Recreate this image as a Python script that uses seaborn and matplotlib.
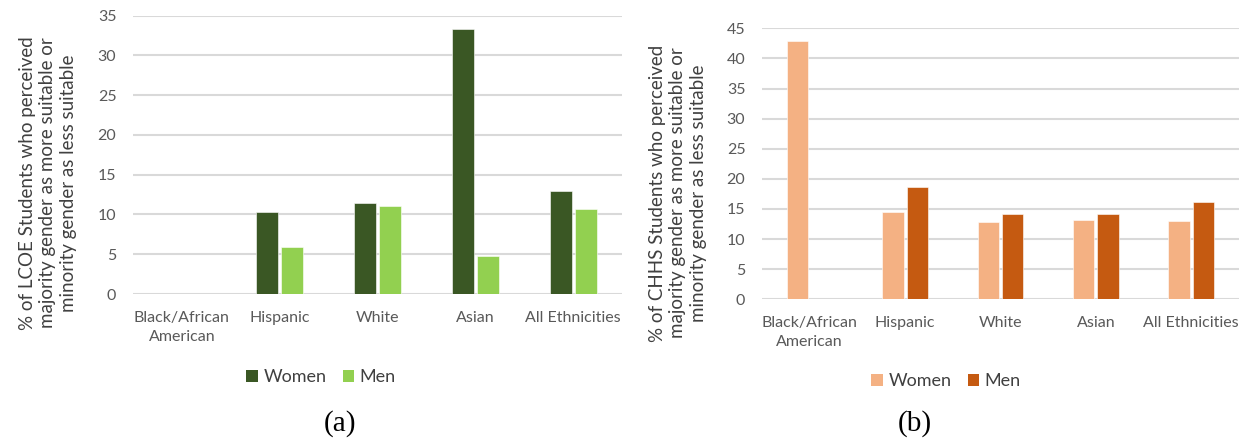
import numpy as np
import pandas as pd
import matplotlib
matplotlib.use("Agg")
import matplotlib.pyplot as plt
from matplotlib.patches import Patch
import seaborn as sns

# Survey results: share of students (%) who perceived the majority gender as
# more suitable or the minority gender as less suitable, by ethnicity.
categories = ["Black/African\nAmerican", "Hispanic", "White", "Asian", "All Ethnicities"]
genders = ["Women", "Men"]

lcoe_women = [np.nan, 10.3, 11.45, 33.3, 12.9]
lcoe_men = [np.nan, 5.9, 11.1, 4.8, 10.65]

chhs_women = [42.9, 14.5, 12.9, 13.2, 13.0]
chhs_men = [np.nan, 18.65, 14.2, 14.2, 16.2]

lcoe_ticks = [0, 5, 10, 15, 20, 25, 30, 35]
chhs_ticks = [0, 5, 10, 15, 20, 25, 30, 35, 40, 45]

lcoe_colors = ["#3A5724", "#92D050"]
chhs_colors = ["#F4B183", "#C55A11"]

lcoe_ylabel = ("% of LCOE Students who perceived\n"
               "majority gender as more suitable or\n"
               "minority gender as less suitable")
chhs_ylabel = ("% of CHHS Students who perceived\n"
               "majority gender as more suitable or\n"
               "minority gender as less suitable")


def long_table(women, men):
    return pd.DataFrame({
        "Ethnicity": categories * 2,
        "Gender": ["Women"] * len(categories) + ["Men"] * len(categories),
        "Percent": list(women) + list(men),
    }).dropna()


sns.set_theme(style="white")
plt.rcParams["font.family"] = ["Lato", "DejaVu Sans"]

W, H = 1247, 442
fig = plt.figure(figsize=(W / 100, H / 100), dpi=100)


def px_axes(left, top, right, bottom):
    return fig.add_axes([left / W, 1 - bottom / H, (right - left) / W, (bottom - top) / H])


ax_a = px_axes(133, 15.7, 622, 294)
ax_b = px_axes(762, 28.3, 1239, 299.3)

text_color = "#595959"
grid_color = "#D9D9D9"

panels = [
    (ax_a, lcoe_women, lcoe_men, lcoe_colors, lcoe_ticks, lcoe_ylabel,
     (48, 183), (321, 377), (340, 424), "(a)"),
    (ax_b, chhs_women, chhs_men, chhs_colors, chhs_ticks, chhs_ylabel,
     (678, 193), (946, 381), (915, 424), "(b)"),
]

for ax, women, men, colors, ticks, ylabel, ylab_pos, leg_pos, cap_pos, cap in panels:
    df = long_table(women, men)
    sns.barplot(data=df, x="Ethnicity", y="Percent", hue="Gender",
                order=categories, hue_order=genders, palette=colors,
                width=0.51, gap=0.12, saturation=1, ax=ax,
                edgecolor="white", linewidth=0.4, legend=False, zorder=3)
    ax.set_ylim(0, ticks[-1])
    ax.set_xlim(-0.5, len(categories) - 0.5)
    ax.set_yticks(ticks)
    ax.yaxis.grid(True, color=grid_color, linewidth=1.5, zorder=0)
    ax.set_axisbelow(True)
    for side in ["top", "right", "left", "bottom"]:
        ax.spines[side].set_visible(False)
    ax.tick_params(axis="y", length=0, pad=12, labelsize=11.5, labelcolor=text_color)
    ax.tick_params(axis="x", length=0, pad=12, labelsize=11.5, labelcolor=text_color)
    for lab in ax.get_xticklabels():
        lab.set_linespacing(1.45)
    ax.set_xlabel("")
    ax.set_ylabel("")

    fig.text(ylab_pos[0] / W, 1 - ylab_pos[1] / H, ylabel, rotation=90,
             ha="center", va="center", multialignment="center",
             fontsize=13.5, color="#404040", linespacing=1.25)

    handles = [Patch(facecolor=c, edgecolor="none") for c in colors]
    fig.legend(handles, genders, loc="center",
               bbox_to_anchor=(leg_pos[0] / W, 1 - leg_pos[1] / H),
               ncol=2, frameon=False, fontsize=13, labelcolor="#404040",
               handlelength=0.65, handleheight=0.65, handletextpad=0.3,
               columnspacing=0.9, borderpad=0)

    fig.text(cap_pos[0] / W, 1 - cap_pos[1] / H, cap, ha="center", va="center",
             fontsize=21, family=["Liberation Serif", "DejaVu Serif"], color="black")

fig.savefig("out.png", dpi=100, facecolor="white")
